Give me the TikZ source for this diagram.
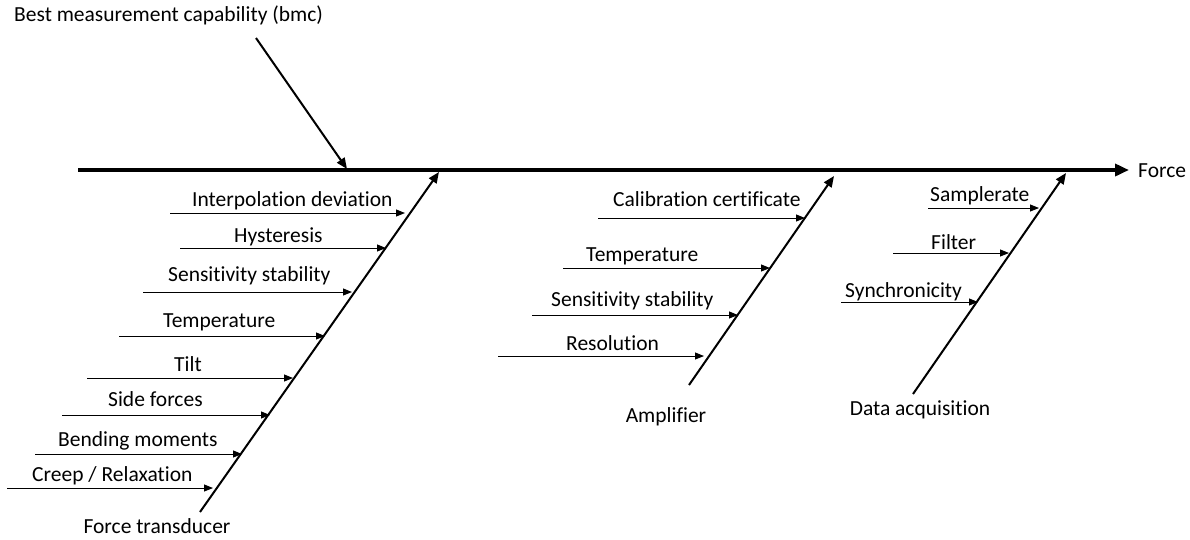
\documentclass[tikz,border=0pt]{standalone}
\usepackage{fontspec}
\setmainfont{Carlito}[Ligatures=NoCommon]
\usetikzlibrary{arrows.meta}
\begin{document}
\begin{tikzpicture}[x=1pt,y=-1pt,
  lbl/.style={font=\fontsize{21.5}{24}\selectfont, inner sep=0pt, anchor=base west},
  cat/.style={font=\fontsize{21.5}{24}\selectfont, inner sep=0pt, anchor=base},
  spine/.style={line width=4pt, -{Triangle[length=14pt,width=12pt]}},
  bone/.style={line width=2pt, -{Triangle[length=11pt,width=9pt]}},
  cause/.style={line width=1pt, -{Triangle[length=9pt,width=7pt]}}]
\useasboundingbox (0,0) rectangle (1190,539);
% spine
\coordinate (s0) at (78,170);
\node[lbl] (force) at (1138,177) {Force};
\draw[spine] (s0) -- ([xshift=-9pt]force.west |- s0);
% bmc
\node[lbl] (bmc) at (14,21) {Best measurement capability (bmc)};
\coordinate (b0) at (256,38);
\coordinate (b1) at (347,169);
\draw[bone] (b0) -- (b1);
% force transducer
\coordinate (f0) at (200,512);
\coordinate (f1) at (439,172);
\draw[bone] (f0) -- (f1);
\node[cat] (ft) at (157,533) {Force transducer};
\foreach \n/\t/\xs/\xe/\y/\tx/\ty in {
  a/{Interpolation deviation}/170/405/213/192/206,
  b/{Hysteresis}/180/386/248/234/242,
  c/{Sensitivity stability}/143/352/292/168/281,
  d/{Temperature}/119/325/336/163/327,
  e/{Tilt}/87/293/378/174/371,
  f/{Side forces}/62/270/415/108/406,
  g/{Bending moments}/35/242/454/58/446,
  h/{Creep / Relaxation}/7/213/488/32/481}{
  \coordinate (ft\n0) at (\xs,\y);
  \coordinate (ft\n1) at (\xe,\y);
  \draw[cause] (ft\n0) -- (ft\n1);
  \node[lbl] (ft\n t) at (\tx,\ty) {\t};
}
% amplifier
\coordinate (a0) at (689,385);
\coordinate (a1) at (834,176);
\draw[bone] (a0) -- (a1);
\node[cat] (amp) at (666,422) {Amplifier};
\foreach \n/\t/\xs/\xe/\y/\tx/\ty in {
  a/{Calibration certificate}/598/805/218/613/206,
  b/{Temperature}/563/770/268/586/261,
  c/{Sensitivity stability}/532/738/315/551/306,
  d/{Resolution}/498/704/356/566/350}{
  \coordinate (am\n0) at (\xs,\y);
  \coordinate (am\n1) at (\xe,\y);
  \draw[cause] (am\n0) -- (am\n1);
  \node[lbl] (am\n t) at (\tx,\ty) {\t};
}
% data acquisition
\coordinate (d0) at (913,394);
\coordinate (d1) at (1066,173);
\draw[bone] (d0) -- (d1);
\node[cat] (daq) at (920,415) {Data acquisition};
\foreach \n/\t/\xs/\xe/\y/\tx/\ty in {
  a/{Samplerate}/928/1039/208/930/201,
  b/{Filter}/893/1009/253/931/249,
  c/{Synchronicity}/841/978/302/845/297}{
  \coordinate (da\n0) at (\xs,\y);
  \coordinate (da\n1) at (\xe,\y);
  \draw[cause] (da\n0) -- (da\n1);
  \node[lbl] (da\n t) at (\tx,\ty) {\t};
}
\end{tikzpicture}
\end{document}
